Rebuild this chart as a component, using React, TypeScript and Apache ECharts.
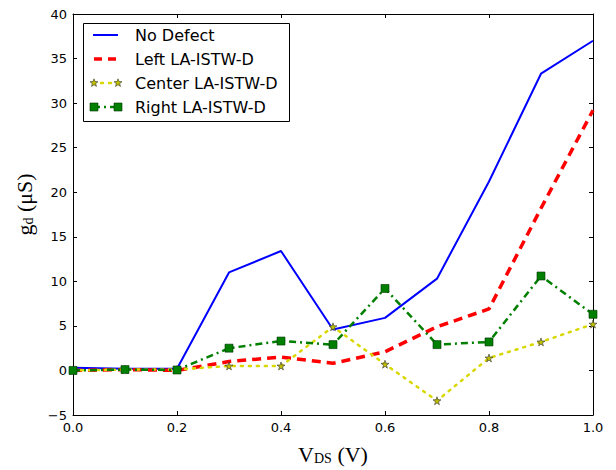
import React, { useEffect, useRef } from "react";
import * as echarts from "echarts";

const vds = [0.0, 0.1, 0.2, 0.3, 0.4, 0.5, 0.6, 0.7, 0.8, 0.9, 1.0];
const noDefect = [0.3, 0.2, 0.2, 11.0, 13.4, 4.6, 5.9, 10.3, 21.2, 33.3, 37.0];
const leftD = [0.0, 0.1, 0.0, 1.0, 1.5, 0.8, 2.1, 4.9, 6.9, 18.2, 29.2];
const centerD = [0.0, 0.1, 0.1, 0.5, 0.5, 4.9, 0.7, -3.4, 1.4, 3.2, 5.2];
const rightD = [0.0, 0.1, 0.05, 2.5, 3.3, 2.9, 9.2, 2.9, 3.2, 10.6, 6.3];
const seriesNames = ["No Defect", "Left LA-ISTW-D", "Center LA-ISTW-D", "Right LA-ISTW-D"];

const STAR =
  "path://M50,0 L61,35 L98,35 L68,57 L79,91 L50,70 L21,91 L32,57 L2,35 L39,35 Z";

const pair = (ys: number[]) => vds.map((x, i) => [x, ys[i]]);

const BLUE = "#0000ff";
const RED = "#ff0000";
const YEL = "#d8d800";
const YELFILL = "#bfbf00";
const GREEN = "#007f00";

function starPoints(cx: number, cy: number, r: number) {
  const pts: number[][] = [];
  for (let i = 0; i < 10; i++) {
    const a = -Math.PI / 2 + (i * Math.PI) / 5;
    const rr = i % 2 === 0 ? r : r * 0.42;
    pts.push([cx + rr * Math.cos(a), cy + rr * Math.sin(a)]);
  }
  return pts;
}

export default function App() {
  const ref = useRef<HTMLDivElement>(null);
  useEffect(() => {
    if (!ref.current) return;
    const chart = echarts.init(ref.current, null, { renderer: "svg" });
    const tickFont = { fontFamily: "DejaVu Sans", fontSize: 13, color: "#000" };
    const baseX = {
      type: "value" as const,
      min: 0,
      max: 1,
      interval: 0.2,
      splitLine: { show: false },
      axisLine: { show: true, onZero: false, lineStyle: { color: "#000", width: 1 } },
      axisTick: { show: true, inside: true, length: 4, lineStyle: { color: "#000" } },
    };
    const baseY = {
      type: "value" as const,
      min: -5,
      max: 40,
      interval: 5,
      splitLine: { show: false },
      axisLine: { show: true, onZero: false, lineStyle: { color: "#000", width: 1 } },
      axisTick: { show: true, inside: true, length: 4, lineStyle: { color: "#000" } },
    };
    const nameRich = {
      m: { fontFamily: "Liberation Serif", fontSize: 22, color: "#000" },
      s: { fontFamily: "Liberation Serif", fontSize: 14, color: "#000", padding: [8, 0, 0, 0] },
    };

    // legend drawn with graphic elements (matplotlib style, 2 points per sample)
    const lx0 = 93;
    const lx1 = 118;
    const rows = [35, 59, 83, 107];
    const textX = 135;
    const legendGraphics: any[] = [
      {
        type: "rect",
        shape: { x: 83.5, y: 23.5, width: 206, height: 98 },
        style: { fill: "#fff", stroke: "#000", lineWidth: 1 },
        z: 100,
      },
      {
        type: "line",
        shape: { x1: lx0, y1: rows[0], x2: lx1, y2: rows[0] },
        style: { stroke: BLUE, lineWidth: 2 },
        z: 101,
      },
      {
        type: "line",
        shape: { x1: lx0 + 1, y1: rows[1], x2: lx1, y2: rows[1] },
        style: { stroke: RED, lineWidth: 3.5, lineDash: [8, 6] },
        z: 101,
      },
      {
        type: "line",
        shape: { x1: lx0, y1: rows[2], x2: lx1, y2: rows[2] },
        style: { stroke: YEL, lineWidth: 2.5, lineDash: [2, 6], lineCap: "round" },
        z: 101,
      },
      {
        type: "polygon",
        shape: { points: starPoints(lx0 + 1, rows[2], 4.2) },
        style: { fill: YELFILL, stroke: "#333", lineWidth: 0.6 },
        z: 102,
      },
      {
        type: "polygon",
        shape: { points: starPoints(lx1, rows[2], 4.2) },
        style: { fill: YELFILL, stroke: "#333", lineWidth: 0.6 },
        z: 102,
      },
      {
        type: "line",
        shape: { x1: lx0, y1: rows[3], x2: lx1, y2: rows[3] },
        style: { stroke: GREEN, lineWidth: 2.5, lineDash: [7, 4, 2, 4] },
        z: 101,
      },
      {
        type: "rect",
        shape: { x: lx0 - 3, y: rows[3] - 4, width: 8, height: 8 },
        style: { fill: GREEN, stroke: "#003300", lineWidth: 0.6 },
        z: 102,
      },
      {
        type: "rect",
        shape: { x: lx1 - 4, y: rows[3] - 4, width: 8, height: 8 },
        style: { fill: GREEN, stroke: "#003300", lineWidth: 0.6 },
        z: 102,
      },
      ...seriesNames.map((n, i) => ({
        type: "text",
        x: textX,
        y: rows[i],
        style: {
          text: n,
          fontFamily: "DejaVu Sans",
          fontSize: 16,
          fill: "#000",
          verticalAlign: "middle",
          align: "left",
        },
        z: 102,
      })),
    ];

    chart.setOption({
      animation: false,
      backgroundColor: "#fff",
      grid: { left: 73, right: 23, top: 14, bottom: 52 },
      xAxis: [
        {
          ...baseX,
          position: "bottom",
          axisLabel: { ...tickFont, margin: 6, formatter: (v: number) => v.toFixed(1) },
          name: "{m|V}{s|DS}{m| (V)}",
          nameLocation: "middle",
          nameGap: 28,
          nameTextStyle: { rich: nameRich },
        },
        {
          ...baseX,
          position: "top",
          axisLabel: { show: false },
        },
      ],
      yAxis: [
        {
          ...baseY,
          position: "left",
          axisLabel: {
            ...tickFont,
            margin: 6,
            formatter: (v: number) => (v < 0 ? "\u2212" + Math.abs(v) : String(v)),
          },
          name: "{m|g}{s|d}{m| (\u03bcS)}",
          nameLocation: "middle",
          nameGap: 38,
          nameRotate: 90,
          nameTextStyle: { rich: nameRich, padding: [0, 0, 0, 20] },
        },
        {
          ...baseY,
          position: "right",
          axisLabel: { show: false },
        },
      ],
      graphic: legendGraphics,
      series: [
        {
          name: seriesNames[0],
          type: "line",
          data: pair(noDefect),
          symbol: "none",
          lineStyle: { color: BLUE, width: 2 },
          itemStyle: { color: BLUE },
        },
        {
          name: seriesNames[1],
          type: "line",
          data: pair(leftD),
          symbol: "none",
          lineStyle: { color: RED, width: 3.5, type: [9, 6] },
          itemStyle: { color: RED },
        },
        {
          name: seriesNames[2],
          type: "line",
          data: pair(centerD),
          symbol: STAR,
          symbolSize: 8,
          lineStyle: { color: YEL, width: 2.5, type: [2, 6], cap: "round" },
          itemStyle: { color: YELFILL, borderColor: "#333", borderWidth: 0.6 },
        },
        {
          name: seriesNames[3],
          type: "line",
          data: pair(rightD),
          symbol: "rect",
          symbolSize: 8,
          lineStyle: { color: GREEN, width: 2.5, type: [7, 4, 2, 4] },
          itemStyle: { color: GREEN, borderColor: "#003300", borderWidth: 0.6 },
        },
      ],
    });
    return () => chart.dispose();
  }, []);
  return <div ref={ref} style={{ width: 616, height: 470, position: "absolute", left: 0, top: 0 }} />;
}
